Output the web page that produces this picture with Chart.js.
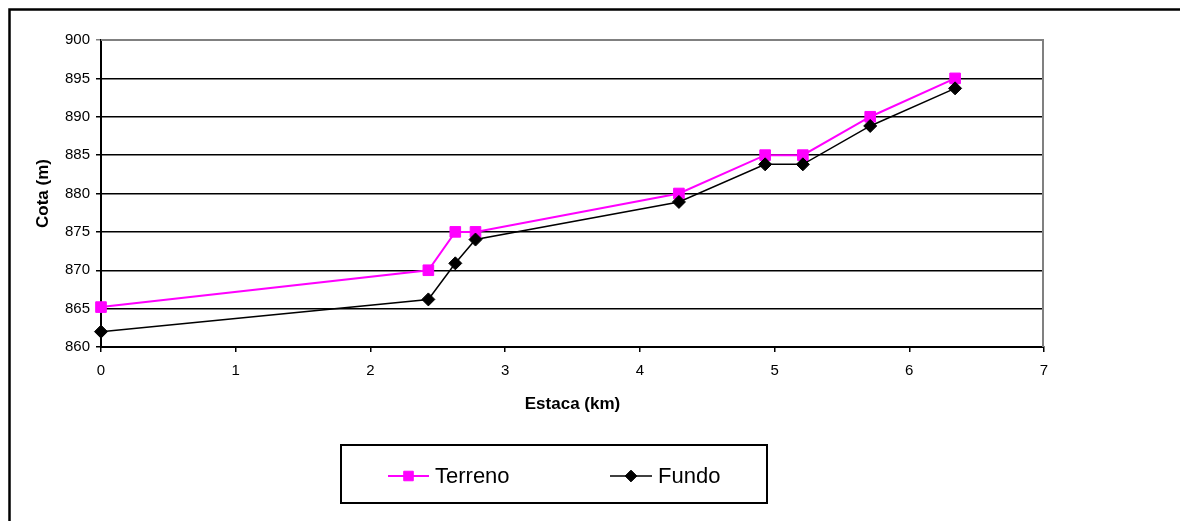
<!DOCTYPE html>
<html lang="pt">
<head>
    <meta charset="UTF-8">
    <title>Perfil - Terreno e Fundo</title>
    <script src="https://cdn.jsdelivr.net/npm/chart.js"></script>
    <style>
        body { margin: 0; background: #fff; }
        canvas { display: block; }
    </style>
</head>
<body>
    <canvas id="perfil" width="1180" height="521"></canvas>

    <script>
        // Estaca (km) e cotas
        const estacas = [0, 2.43, 2.63, 2.78, 4.29, 4.93, 5.21, 5.71, 6.34];
        const cotaTerreno = [865.2, 870, 875, 875, 880, 885, 885, 890, 895];
        const cotaFundo = [862, 866.2, 870.9, 874.0, 878.9, 883.8, 883.8, 888.8, 893.7];
        const seriesNames = ['Terreno', 'Fundo'];
        const xTitle = 'Estaca (km)';
        const yTitle = 'Cota (m)';

        const font = "'Liberation Sans', Arial, sans-serif";

        function toPoints(ys) {
            return estacas.map((x, i) => ({ x: x, y: ys[i] }));
        }

        // moldura externa, borda do plot e legenda em caixa
        const frame = {
            id: 'frame',
            beforeDraw(chart) {
                const ctx = chart.ctx;
                ctx.save();
                ctx.fillStyle = '#fff';
                ctx.fillRect(0, 0, chart.width, chart.height);
                ctx.restore();
            },
            afterDraw(chart) {
                const ctx = chart.ctx;
                const a = chart.chartArea;
                ctx.save();
                // borda cinza em cima e na direita
                ctx.strokeStyle = '#808080';
                ctx.lineWidth = 2;
                ctx.beginPath();
                ctx.moveTo(a.left, a.top);
                ctx.lineTo(a.right - 1, a.top);
                ctx.lineTo(a.right - 1, a.bottom);
                ctx.stroke();

                // moldura do grafico
                ctx.strokeStyle = '#000';
                ctx.lineWidth = 2.5;
                ctx.strokeRect(9.5, 9.5, 1200, 600);

                // legenda
                ctx.lineWidth = 2;
                ctx.strokeRect(341, 445, 426, 58);
                const ly = 476;
                const items = [
                    { ds: chart.data.datasets[0], x0: 388, x1: 429 },
                    { ds: chart.data.datasets[1], x0: 610, x1: 652 }
                ];
                items.forEach(it => {
                    ctx.strokeStyle = it.ds.borderColor;
                    ctx.lineWidth = it.ds.borderWidth;
                    ctx.beginPath();
                    ctx.moveTo(it.x0, ly);
                    ctx.lineTo(it.x1, ly);
                    ctx.stroke();
                    ctx.fillStyle = it.ds.pointBackgroundColor;
                    ctx.strokeStyle = it.ds.pointBorderColor;
                    ctx.lineWidth = 1;
                    Chart.helpers.drawPoint(ctx, {
                        pointStyle: it.ds.pointStyle,
                        radius: it.ds.pointRadius * 0.9,
                        rotation: 0,
                        borderWidth: 1
                    }, (it.x0 + it.x1) / 2, ly);
                    ctx.fillStyle = '#000';
                    ctx.font = '22px ' + font;
                    ctx.textBaseline = 'middle';
                    ctx.textAlign = 'left';
                    ctx.fillText(it.ds.label, it.x1 + 6, ly + 1);
                });
                ctx.restore();
            }
        };

        const ctx = document.getElementById('perfil').getContext('2d');
        new Chart(ctx, {
            type: 'line',
            data: {
                datasets: [
                    {
                        label: seriesNames[0],
                        data: toPoints(cotaTerreno),
                        borderColor: '#FF00FF',
                        borderWidth: 2,
                        pointStyle: 'rect',
                        pointRadius: 7.5,
                        pointBackgroundColor: '#FF00FF',
                        pointBorderColor: '#FF00FF',
                        pointBorderWidth: 1,
                        tension: 0,
                        clip: false,
                        order: 2
                    },
                    {
                        label: seriesNames[1],
                        data: toPoints(cotaFundo),
                        borderColor: '#000000',
                        borderWidth: 1.5,
                        pointStyle: 'rectRot',
                        pointRadius: 6.5,
                        pointBackgroundColor: '#000000',
                        pointBorderColor: '#000000',
                        pointBorderWidth: 1,
                        tension: 0,
                        clip: false,
                        order: 1
                    }
                ]
            },
            options: {
                responsive: false,
                animation: false,
                layout: { padding: { left: 0, top: 40, right: 136, bottom: 106 } },
                plugins: {
                    legend: { display: false },
                    tooltip: { enabled: false }
                },
                scales: {
                    x: {
                        type: 'linear',
                        min: 0,
                        max: 7,
                        ticks: { stepSize: 1, color: '#000', padding: 10, font: { family: font, size: 15 } },
                        grid: { drawOnChartArea: false, drawTicks: true, tickLength: 5, color: '#000', lineWidth: 1.5 },
                        border: { display: true, color: '#000', width: 2 },
                        title: { display: true, text: xTitle, color: '#000', padding: { top: 0, bottom: 0 }, font: { family: font, size: 17, weight: 'bold' } },
                        afterFit(scale) { scale.height = 68; }
                    },
                    y: {
                        min: 860,
                        max: 900,
                        ticks: { stepSize: 5, color: '#000', padding: 6, font: { family: font, size: 15 } },
                        grid: {
                            tickLength: 5,
                            lineWidth: 1.5,
                            color: c => (c.tick && c.tick.value === 900) ? '#808080' : '#000'
                        },
                        border: { display: true, color: '#000', width: 2 },
                        title: { display: true, text: yTitle, color: '#000', padding: { top: 33, bottom: 0 }, font: { family: font, size: 17, weight: 'bold' } },
                        afterFit(scale) { scale.width = 101; }
                    }
                }
            },
            plugins: [frame]
        });
    </script>
</body>
</html>
